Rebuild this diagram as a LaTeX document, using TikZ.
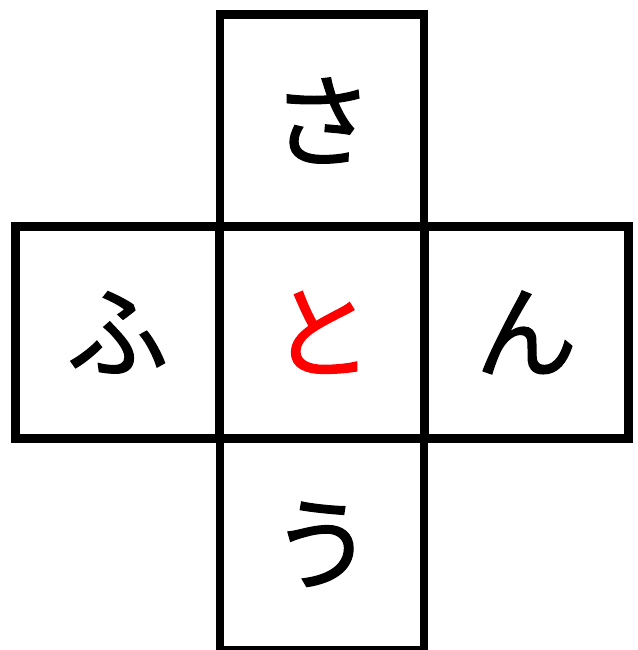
\documentclass[tikz,border=0pt]{standalone}
\usepackage{fontspec}
\newfontfamily\jpfont[FakeBold=1.2]{Noto Sans CJK JP}
\begin{document}
\begin{tikzpicture}[x=1pt,y=-1pt,
  cell/.style={draw=black, line width=8.5pt, minimum width=204pt, minimum height=212pt, inner sep=0pt, font=\jpfont\fontsize{102}{102}\selectfont}]
\useasboundingbox (0,0) rectangle (637,650);
\node[cell] (top) at (322,120.5) {さ};
\node[cell] (left) at (117.5,332.4) {ふ};
\node[cell, text=red] (mid) at (322,332.4) {と};
\node[cell] (right) at (526.3,332.4) {ん};
\node[cell] (bottom) at (322,544.3) {う};
\end{tikzpicture}
\end{document}
